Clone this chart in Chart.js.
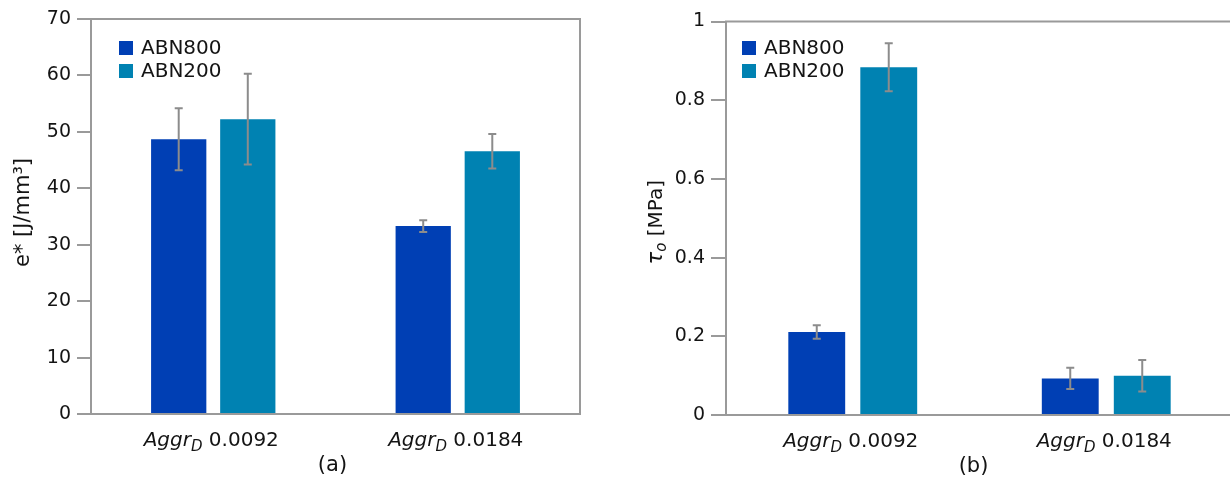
<!DOCTYPE html>
<html><head><meta charset="utf-8">
<script src="https://cdn.jsdelivr.net/npm/chart.js@4.4.1/dist/chart.umd.min.js"></script>
<style>
html,body{margin:0;padding:0;background:#fff;width:1230px;height:485px;overflow:hidden;position:relative}
#c1{position:absolute;left:0;top:0}
#c2{position:absolute;left:620px;top:0}
</style></head><body>
<canvas id="c1" width="615" height="485"></canvas>
<canvas id="c2" width="640" height="485"></canvas>
<script>
// ---- data ----
const categories = ['Aggr_D 0.0092', 'Aggr_D 0.0184'];
const seriesNames = ['ABN800', 'ABN200'];
const energyABN800 = [48.7, 33.3];
const energyABN800Err = [5.5, 1.05];
const energyABN200 = [52.25, 46.55];
const energyABN200Err = [8.05, 3.05];
const tauABN800 = [0.211, 0.093];
const tauABN800Err = [0.017, 0.027];
const tauABN200 = [0.884, 0.1];
const tauABN200Err = [0.061, 0.04];
const energyTicks = [0, 10, 20, 30, 40, 50, 60, 70];
const tauTicks = [0, 0.2, 0.4, 0.6, 0.8, 1];

// ---- style ----
const FONT = "'DejaVu Sans', sans-serif";
const GRAY = '#9a9a9a';
const TXT = '#141414';
const C800 = '#003fb4';
const C200 = '#0082b2';

const figPlugin = {
  id: 'fig',
  afterDatasetsDraw(chart, args, o) {
    const ctx = chart.ctx, ca = chart.chartArea, y = chart.scales.y, x = chart.scales.x;
    ctx.save();
    // error bars
    ctx.strokeStyle = '#8c8c8c'; ctx.lineWidth = 2;
    chart.data.datasets.forEach((ds, i) => {
      const meta = chart.getDatasetMeta(i);
      meta.data.forEach((bar, j) => {
        const v = ds.data[j], e = ds.errors[j];
        const y1 = y.getPixelForValue(v + e), y2 = y.getPixelForValue(v - e);
        ctx.beginPath();
        ctx.moveTo(bar.x, y1); ctx.lineTo(bar.x, y2);
        ctx.moveTo(bar.x - 4, y1); ctx.lineTo(bar.x + 4, y1);
        ctx.moveTo(bar.x - 4, y2); ctx.lineTo(bar.x + 4, y2);
        ctx.stroke();
      });
    });
    // frame
    ctx.strokeStyle = GRAY; ctx.lineWidth = 2;
    ctx.strokeRect(ca.left, ca.top, ca.right - ca.left, ca.bottom - ca.top);
    // legend
    ctx.textBaseline = 'middle'; ctx.textAlign = 'left';
    ctx.font = '20px ' + FONT;
    chart.data.datasets.forEach((ds, i) => {
      const lx = ca.left + o.legendX, ly = ca.top + o.legendY + i * 23;
      ctx.fillStyle = ds.backgroundColor;
      ctx.fillRect(lx, ly - 7, 14, 14);
      ctx.fillStyle = TXT;
      ctx.fillText(ds.label, lx + 22, ly + 1);
    });
    // rich category labels
    ctx.textBaseline = 'alphabetic';
    chart.data.labels.forEach((lab, i) => {
      const m = lab.match(/^(\S+)_(\S)\s(.*)$/);
      const parts = [
        {t: m[1], f: 'italic 20px ' + FONT, dy: 0},
        {t: m[2], f: 'italic 15px ' + FONT, dy: 5},
        {t: ' ' + m[3], f: '20px ' + FONT, dy: 0}
      ];
      let w = 0;
      parts.forEach(p => { ctx.font = p.f; p.w = ctx.measureText(p.t).width; w += p.w; });
      let px = x.getPixelForValue(i) - w / 2 + o.labelDx;
      const base = ca.bottom + 32;
      ctx.fillStyle = TXT;
      parts.forEach(p => { ctx.font = p.f; ctx.fillText(p.t, px, base + p.dy); px += p.w; });
    });
    // panel caption
    ctx.font = '21px ' + FONT;
    ctx.textAlign = 'center';
    ctx.textBaseline = 'middle';
    ctx.fillText(o.caption, (ca.left + ca.right) / 2 + o.captionDx, ca.bottom + 52);
    ctx.textAlign = 'left';
    // rotated y title
    ctx.translate(o.titleX, (ca.top + ca.bottom) / 2 + o.titleDy);
    ctx.rotate(-Math.PI / 2);
    let tw = 0;
    o.titleSegs.forEach(p => { ctx.font = p.f; p.w = ctx.measureText(p.t).width; tw += p.w; });
    let tx = -tw / 2;
    ctx.textBaseline = 'middle';
    o.titleSegs.forEach(p => { ctx.font = p.f; ctx.fillText(p.t, tx, p.dy); tx += p.w; });
    ctx.restore();
  }
};

function makeChart(id, d800, e800, d200, e200, ticks, yWidth, xHeight, padTop, padRight, tickLen, pluginOpts, catPct, barPct) {
  return new Chart(document.getElementById(id), {
    type: 'bar',
    data: {
      labels: categories,
      datasets: [
        {label: seriesNames[0], data: d800, errors: e800, backgroundColor: C800, borderWidth: 0},
        {label: seriesNames[1], data: d200, errors: e200, backgroundColor: C200, borderWidth: 0}
      ]
    },
    options: {
      responsive: false, animation: false, devicePixelRatio: 1,
      datasets: {bar: {categoryPercentage: catPct, barPercentage: barPct}},
      layout: {padding: {top: padTop, right: padRight, left: 0, bottom: 0}},
      plugins: {legend: {display: false}, tooltip: {enabled: false}, fig: pluginOpts},
      scales: {
        x: {
          grid: {display: false}, border: {display: false},
          ticks: {display: false},
          afterFit: s => { s.height = xHeight; }
        },
        y: {
          min: ticks[0], max: ticks[ticks.length - 1],
          afterBuildTicks: s => { s.ticks = ticks.map(v => ({value: v})); },
          ticks: {color: TXT, font: {family: FONT, size: 19}, padding: 6, callback: v => String(v)},
          grid: {drawOnChartArea: false, drawTicks: true, tickLength: tickLen, color: GRAY, lineWidth: 2},
          border: {display: false},
          afterFit: s => { s.width = yWidth; }
        }
      }
    },
    plugins: [figPlugin]
  });
}

makeChart('c1', energyABN800, energyABN800Err, energyABN200, energyABN200Err, energyTicks,
  91, 71, 19, 35, 14,
  {legendX: 28, legendY: 29, labelDx: -2, titleX: 24, titleDy: -4, caption: '(a)', captionDx: -3,
   titleSegs: [{t: 'e* [J/mm³]', f: '21px ' + FONT, dy: 0}]},
  0.565, 0.8);

makeChart('c2', tauABN800, tauABN800Err, tauABN200, tauABN200Err, tauTicks,
  106, 70, 21.5, 27, 15,
  {legendX: 16, legendY: 26.5, labelDx: -2, titleX: 37, titleDy: 4, caption: '(b)', captionDx: -6,
   titleSegs: [{t: 'τ', f: 'italic 21px ' + FONT, dy: 0}, {t: 'o', f: 'italic 15px ' + FONT, dy: 5}, {t: ' [MPa]', f: '20px ' + FONT, dy: 0}]},
  0.568, 0.79);
</script>
</body></html>
